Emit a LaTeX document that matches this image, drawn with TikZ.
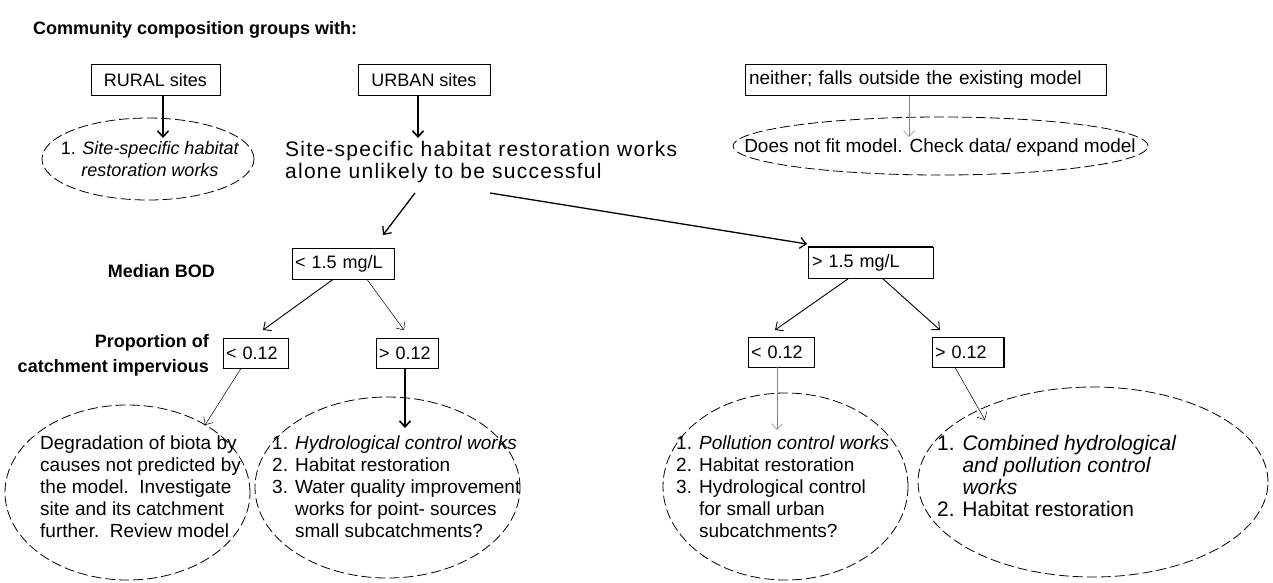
\documentclass[tikz,border=0pt]{standalone}
\usepackage{fontspec}
\setmainfont{Liberation Sans}
\newfontfamily\widefont{Liberation Sans}[LetterSpace=6]
\usetikzlibrary{arrows.meta,shapes.geometric}
\begin{document}
\begin{tikzpicture}[x=1pt,y=-1pt,
  every node/.style={inner sep=0pt},
  lbl/.style={font=\fontsize{18}{21}\selectfont\bfseries},
  body/.style={font=\fontsize{19}{22}\selectfont, align=left},
  box/.style={draw, line width=0.8pt, font=\fontsize{18}{21}\selectfont, minimum height=31pt},
  sbox/.style={box, minimum height=30pt, align=left, inner xsep=3pt},
  ell/.style={draw, ellipse, dash pattern=on 10pt off 4pt, line width=0.8pt},
  arr/.style={-{Straight Barb[length=6pt,width=11pt]}, line width=0.9pt},
  thickarr/.style={arr, line width=1.6pt},
  thinarr/.style={arr, line width=0.5pt}]
\useasboundingbox (0,0) rectangle (1273,582);

\node[lbl, anchor=west] (title) at (33,30) {Community composition groups with:};

% top boxes
\node[box, minimum width=129pt] (rural) at (155.5,80) {RURAL sites};
\node[box, minimum width=132pt] (urban) at (424,80) {URBAN sites};
\node[box, text width=353pt, inner xsep=4pt, align=left, font=\fontsize{19}{21}\selectfont] (neither) at (925.5,80) {neither; falls outside the existing model};

% rural outcome
\node[ell, minimum width=212pt, minimum height=82pt] (rell) at (148,159) {};
\node[body, align=center, font=\fontsize{18}{22}\selectfont] (rtxt) at (150,159) {1. \textit{Site-specific habitat}\\\textit{restoration works}};
\coordinate (rt) at (163,138);
\draw[thickarr] ([xshift=7.5pt]rural.south) -- (rt);

% urban outcome
\node[body, anchor=north west, font=\fontsize{21}{22}\widefont] (utxt) at (285,141) {Site-specific habitat restoration works\\alone unlikely to be successful};
\coordinate (ut) at (418,138);
\draw[thickarr] ([xshift=-6pt]urban.south) -- (ut);

% neither outcome
\node[ell, minimum width=415pt, minimum height=58pt] (nell) at (940.5,146) {};
\node[body] (ntxt) at (940,148) {Does not fit model. Check data/ expand model};
\coordinate (nt) at (909,137);
\draw[thinarr, gray] ([xshift=-16.5pt]neither.south) -- (nt);

% BOD level
\node[lbl, anchor=east] (median) at (215,271) {Median BOD};
\node[box, text width=96pt, inner xsep=3pt, align=left] (bod1) at (343,263.5) {< 1.5 mg/L};
\node[box, text width=117pt, inner xsep=4pt, align=left] (bod2) at (870.5,263) {> 1.5 mg/L};
\draw[line width=2.2pt] (bod2.north west) -- (bod2.north east);

\coordinate (us1) at (415,193);
\coordinate (ue1) at (383,235);
\coordinate (us2) at (490,193);
\coordinate (ue2) at (807,244);
\draw[arr, line width=1.3pt] (us1) -- (ue1);
\draw[arr, line width=1.3pt] (us2) -- (ue2);

% impervious level
\node[lbl, align=right, anchor=east, font=\fontsize{18}{25}\selectfont\bfseries] (prop) at (209,355) {Proportion of\\catchment impervious};
\node[sbox, text width=59pt] (l1) at (255.5,353) {< 0.12};
\node[sbox, text width=56pt] (l2) at (407,353) {> 0.12};
\node[sbox, text width=60pt] (r1) at (781,352) {< 0.12};
\node[sbox, text width=66pt] (r2) at (968,352) {> 0.12};
\draw[line width=2pt] (r2.north east) -- (r2.south east);

\coordinate (c1) at (263,330);
\coordinate (c2) at (404,330);
\coordinate (c3) at (775,330);
\coordinate (c4) at (940,330);
\draw[arr] ([xshift=-10pt]bod1.south) -- (c1);
\draw[thinarr] ([xshift=24pt]bod1.south) -- (c2);
\draw[arr] ([xshift=-22.5pt]bod2.south) -- (c3);
\draw[arr] ([xshift=12.5pt]bod2.south) -- (c4);

% bottom outcomes
\node[ell, minimum width=245pt, minimum height=175pt] (e1) at (127.5,492.5) {};
\node[ell, minimum width=265pt, minimum height=181pt] (e2) at (387.5,487.5) {};
\node[ell, minimum width=245pt, minimum height=187pt] (e3) at (785.5,486.5) {};
\node[ell, minimum width=350pt, minimum height=190pt] (e4) at (1093,482) {};

\node[body, anchor=north west] (t1) at (40,436) {Degradation of biota by\\causes not predicted by\\the model.\ \ Investigate\\site and its catchment\\further.\ \ Review model};
\node[body, anchor=north west] (t2) at (272,436) {1. \textit{Hydrological control works}\\2. Habitat restoration\\3. Water quality improvement\\\hphantom{3. }works for point- sources\\\hphantom{3. }small subcatchments?};
\node[body, anchor=north west] (t3) at (676,436) {1. \textit{Pollution control works}\\2. Habitat restoration\\3. Hydrological control\\\hphantom{3. }for small urban\\\hphantom{3. }subcatchments?};
\node[body, anchor=north west, font=\fontsize{21}{22}\selectfont] (t4) at (937,435) {1. \textit{Combined hydrological}\\\hphantom{1. }\textit{and pollution control}\\\hphantom{1. }\textit{works}\\2. Habitat restoration};

\coordinate (d1) at (205,425);
\coordinate (d2) at (405,428);
\coordinate (d3) at (777,430);
\coordinate (d4) at (985,420);
\draw[thinarr] ([xshift=-14.5pt]l1.south) -- (d1);
\draw[thickarr] ([xshift=-2pt]l2.south) -- (d2);
\draw[thinarr, gray] ([xshift=-4pt]r1.south) -- (d3);
\draw[thinarr] ([xshift=-13pt]r2.south) -- (d4);
\end{tikzpicture}
\end{document}
